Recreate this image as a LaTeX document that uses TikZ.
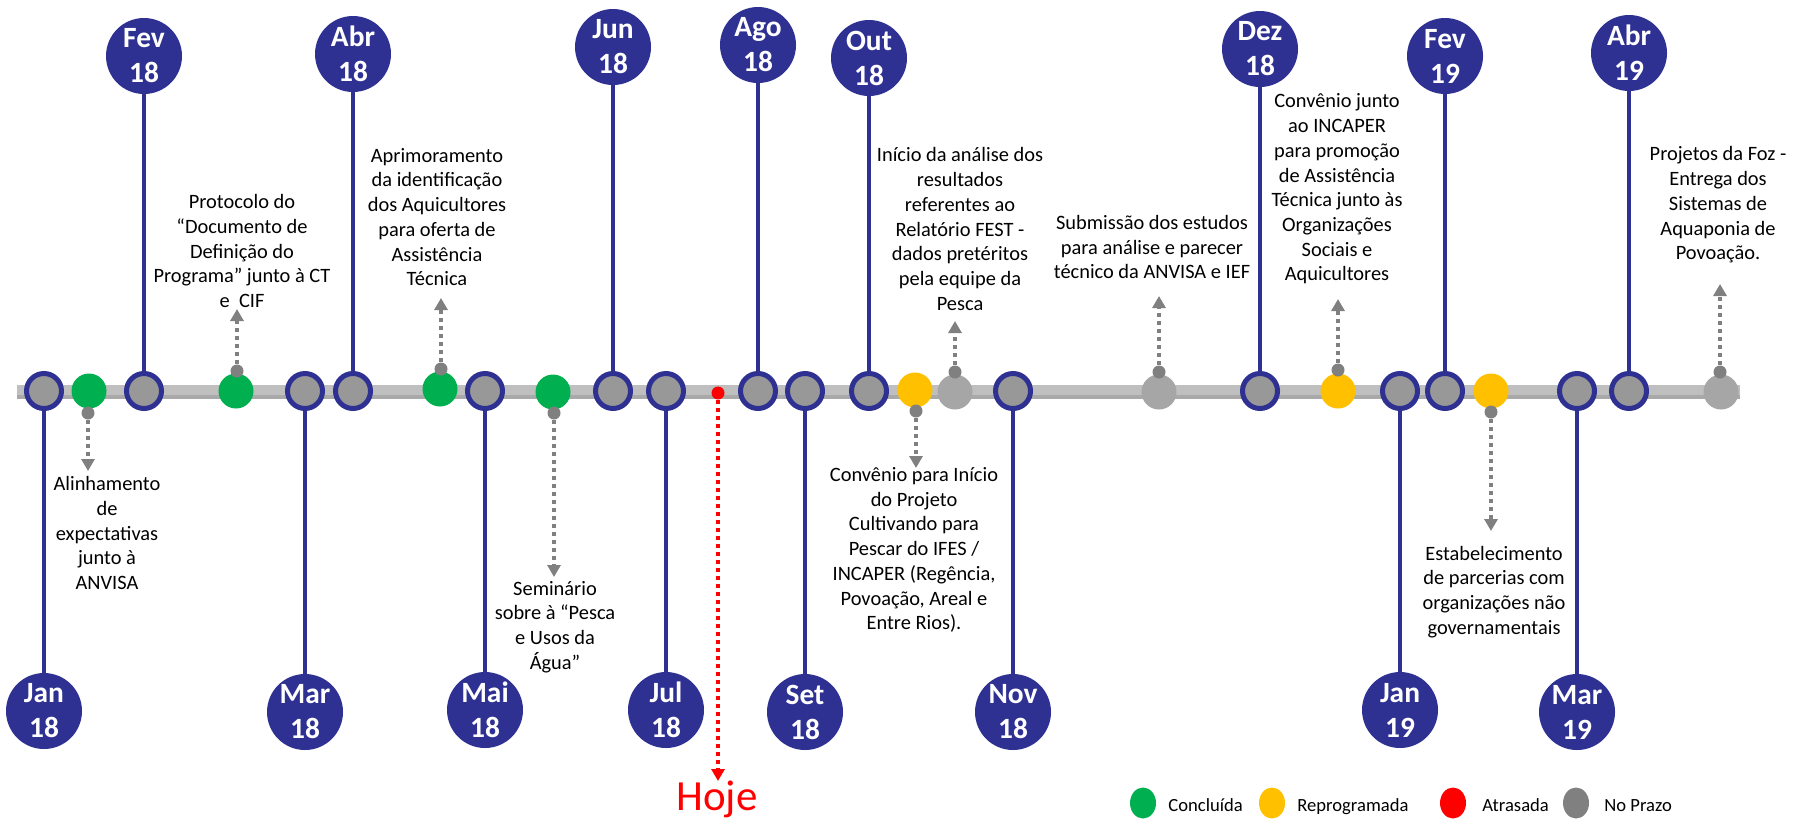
\documentclass[tikz,border=0pt]{standalone}
\usepackage{fontspec}
\setmainfont{Carlito}
\usetikzlibrary{arrows.meta,shapes.geometric}
\definecolor{navy}{HTML}{2E3192}
\definecolor{cgreen}{HTML}{00B050}
\definecolor{cyellow}{HTML}{FFC000}
\definecolor{cred}{HTML}{FF0000}
\definecolor{nodegray}{HTML}{989898}
\definecolor{lightgraytwo}{HTML}{A6A6A6}
\definecolor{dotgray}{HTML}{808080}
\definecolor{axisgray}{HTML}{BFBFBF}
\definecolor{axisshadow}{HTML}{A9A9A9}
\begin{document}
\begin{tikzpicture}[x=0.5pt,y=-0.5pt,
 axnode/.style={circle, draw=navy, line width=2.5pt, fill=nodegray, minimum size=17.5pt, inner sep=0pt},
 month/.style={circle, fill=navy, minimum size=38pt, inner sep=0pt, text=white, align=center, font=\bfseries\fontsize{14.7}{17.5}\selectfont},
 stem/.style={draw=navy, line width=2pt},
 marker/.style={circle, minimum size=17.5pt, inner sep=0pt},
 done/.style={marker, fill=cgreen},
 resched/.style={marker, fill=cyellow},
 ontime/.style={marker, fill=lightgraytwo},
 sdot/.style={circle, fill=dotgray, minimum size=6.5pt, inner sep=0pt},
 reddot/.style={circle, fill=cred, minimum size=6.5pt, inner sep=0pt},
 darr/.style={draw=dotgray, line width=2pt, dash pattern=on 2pt off 2pt, -{Triangle[width=6.5pt,length=6pt]}},
 rarr/.style={draw=cred, line width=2pt, dash pattern=on 2pt off 2pt, -{Triangle[width=6.5pt,length=6pt]}},
 txt/.style={align=center, inner sep=0pt, font=\fontsize{10.2}{12.35}\selectfont},
 leg/.style={ellipse, minimum width=13pt, minimum height=15.5pt, inner sep=0pt},
 legtxt/.style={anchor=base west, inner sep=0pt, font=\fontsize{9.3}{11}\selectfont}
]
\fill[white] (0,0) rectangle (1802,820);
\useasboundingbox (0,0) rectangle (1802,820);

% axis bar
\coordinate (axL) at (17,391);
\coordinate (axR) at (1740,391);
\draw[axisshadow, line width=5pt] ([yshift=-1.5pt]axL) -- ([yshift=-1.5pt]axR);
\draw[axisgray, line width=5pt] ([yshift=0.5pt]axL) -- ([yshift=0.5pt]axR);

% month nodes on the axis
\foreach \n/\x in {jan18/44, fev18/144, mar18/305, abr18/353, mai18/485, jun18/613, jul18/666, ago18/758, set18/805, out18/869, nov18/1013, dez18/1260, jan19/1400, fev19/1445, mar19/1577, abr19/1629}
  \node[axnode] (\n) at (\x,391) {};

% month circles
\node[month] (mjan18) at (44,711) {Jan\\18};
\node[month] (mfev18) at (144,56) {Fev\\18};
\node[month] (mmar18) at (305,712) {Mar\\18};
\node[month] (mabr18) at (353,54) {Abr\\18};
\node[month] (mmai18) at (485,710) {Mai\\18};
\node[month] (mjun18) at (613,47) {Jun\\18};
\node[month] (mjul18) at (666,710) {Jul\\18};
\node[month] (mago18) at (758,45) {Ago\\18};
\node[month] (mset18) at (805,712) {Set\\18};
\node[month] (mout18) at (869,58) {Out\\18};
\node[month] (mnov18) at (1013,712) {Nov\\18};
\node[month] (mdez18) at (1260,49) {Dez\\18};
\node[month] (mjan19) at (1400,710) {Jan\\19};
\node[month] (mfev19) at (1445,56) {Fev\\19};
\node[month] (mmar19) at (1577,712) {Mar\\19};
\node[month] (mabr19) at (1629,53) {Abr\\19};

\foreach \n in {jan18, fev18, mar18, abr18, mai18, jun18, jul18, ago18, set18, out18, nov18, dez18, jan19, fev19, mar19, abr19}
  \draw[stem] (m\n) -- (\n);

% status markers
\node[done] (g1) at (89,391) {};
\node[done] (g2) at (236,391) {};
\node[done] (g3) at (440,389) {};
\node[done] (g4) at (553,392) {};
\node[reddot] (rd) at (718,393) {};
\node[resched] (y1) at (915,390) {};
\node[ontime] (k1) at (955,392) {};
\node[ontime] (k2) at (1159,392) {};
\node[resched] (y2) at (1338,391) {};
\node[resched] (y3) at (1491,391) {};
\node[ontime] (k3) at (1721,392) {};

% small dots
\node[sdot] (g1d) at (88,413) {};
\node[sdot] (g2d) at (237,371) {};
\node[sdot] (g3d) at (441,369) {};
\node[sdot] (g4d) at (554,413) {};
\node[sdot] (y1d) at (916,411) {};
\node[sdot] (k1d) at (955,372) {};
\node[sdot] (k2d) at (1159,372) {};
\node[sdot] (y2d) at (1338,370) {};
\node[sdot] (y3d) at (1491,412) {};
\node[sdot] (k3d) at (1720,372) {};

% arrow tips
\coordinate (g1t) at (88,471);
\coordinate (g2t) at (237,309);
\coordinate (g3t) at (441,298);
\coordinate (g4t) at (554,577);
\coordinate (rdt) at (718,781);
\coordinate (y1t) at (916,468);
\coordinate (k1t) at (955,321);
\coordinate (k2t) at (1159,296);
\coordinate (y2t) at (1338,299);
\coordinate (y3t) at (1491,531);
\coordinate (k3t) at (1720,284);

\draw[darr] (g1d) -- (g1t);
\draw[darr] (g2d) -- (g2t);
\draw[darr] (g3d) -- (g3t);
\draw[darr] (g4d) -- (g4t);
\draw[rarr] (rd) -- (rdt);
\draw[darr] (y1d) -- (y1t);
\draw[darr] (k1d) -- (k1t);
\draw[darr] (k2d) -- (k2t);
\draw[darr] (y2d) -- (y2t);
\draw[darr] (y3d) -- (y3t);
\draw[darr] (k3d) -- (k3t);

% texts
\node[txt] (t1) at (107,533) {Alinhamento\\de\\expectativas\\junto à\\ANVISA};
\node[txt] (t2) at (242,251) {Protocolo do\\“Documento de\\Definição do\\Programa” junto à CT\\e\ \ CIF};
\node[txt] (t3) at (437,217) {Aprimoramento\\da identificação\\dos Aquicultores\\para oferta de\\Assistência\\Técnica};
\node[txt] (t4) at (555,627) {Seminário\\sobre à “Pesca\\e Usos da\\Água”};
\node[anchor=base, inner sep=0pt, text=cred, font=\fontsize{21.5}{25}\selectfont] (hoje) at (717,810) {Hoje};
\node[txt] (t6) at (914,550) {Convênio para Início\\do Projeto\\Cultivando para\\Pescar do IFES /\\INCAPER (Regência,\\Povoação, Areal e\\Entre Rios).};
\node[txt] (t7) at (960,229) {Início da análise dos\\resultados\\referentes ao\\Relatório FEST -\\dados pretéritos\\pela equipe da\\Pesca};
\node[txt] (t8) at (1152,247) {Submissão dos estudos\\para análise e parecer\\técnico da ANVISA e IEF};
\node[txt] (t9) at (1337,189) {Convênio junto\\ao INCAPER\\para promoção\\de Assistência\\Técnica junto às\\Organizações\\Sociais e\\Aquicultores};
\node[txt] (t10) at (1494,592) {Estabelecimento\\de parcerias com\\organizações não\\governamentais};
\node[txt] (t11) at (1718,205) {Projetos da Foz -\\Entrega dos\\Sistemas de\\Aquaponia de\\Povoação.};

% legend
\node[leg, fill=cgreen] (lg1) at (1143,803) {};
\node[legtxt] (lt1) at (1168,811) {Concluída};
\node[leg, fill=cyellow] (lg2) at (1272,803) {};
\node[legtxt] (lt2) at (1297,811) {Reprogramada};
\node[leg, fill=cred] (lg3) at (1453,803) {};
\node[legtxt] (lt3) at (1482,811) {Atrasada};
\node[leg, fill=dotgray] (lg4) at (1576,803) {};
\node[legtxt] (lt4) at (1604,811) {No Prazo};
\end{tikzpicture}
\end{document}
